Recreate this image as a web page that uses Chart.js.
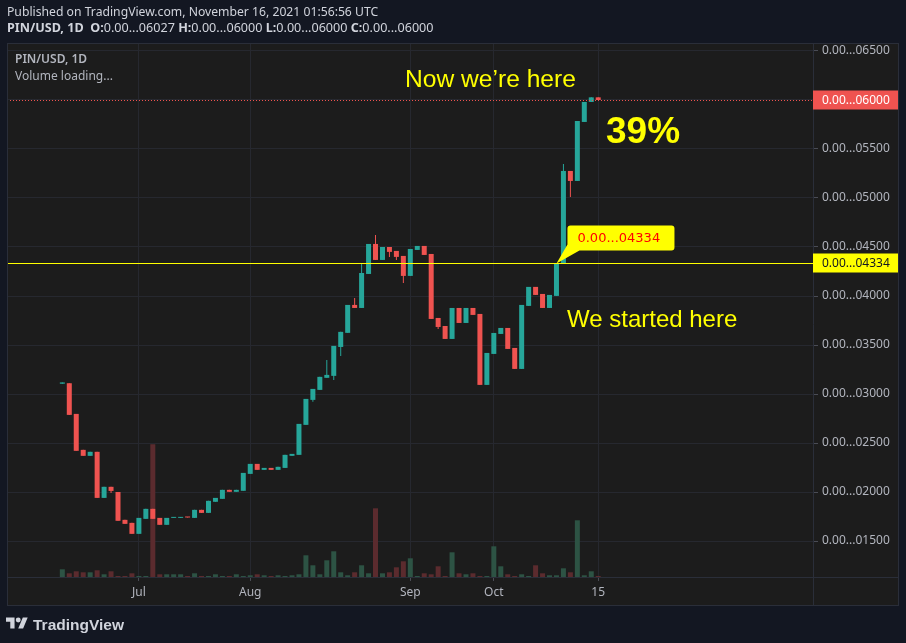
<!DOCTYPE html>
<html><head><meta charset="utf-8">
<script src="https://cdn.jsdelivr.net/npm/chart.js@4.4.0/dist/chart.umd.min.js"></script>
<style>
html,body{margin:0;padding:0;background:#131722;width:906px;height:643px;overflow:hidden;}
#c{position:absolute;left:0;top:0;}
.t{position:absolute;white-space:nowrap;}
.hd{font-family:'Noto Sans',sans-serif;font-size:12.6px;line-height:12.6px;color:#d1d4dc;}
.pn{font-family:'Noto Sans',sans-serif;font-size:12px;line-height:12px;color:#b2b5be;}
.ann{font-family:'Liberation Sans',Arial,sans-serif;color:#ffff00;}
</style></head><body>
<canvas id="c" width="906" height="643"></canvas>
<div class="t hd" style="left:7px;top:6px;font-size:12.2px;">Published on TradingView.com, November 16, 2021 01:56:56 UTC</div>
<div class="t hd" style="left:7px;top:22px;"><b>PIN/USD, 1D</b>&nbsp; <b>O:</b>0.00...06027 <b>H:</b>0.00...06000 <b>L:</b>0.00...06000 <b>C:</b>0.00...06000</div>
<div class="t pn" style="left:15px;top:53px;font-weight:600;">PIN/USD, 1D</div>
<div class="t pn" style="left:15px;top:70px;">Volume loading...</div>
<div class="t ann" style="left:405px;top:67px;font-size:24.6px;line-height:24.6px;">Now we’re here</div>
<div class="t ann" style="left:606px;top:112px;font-size:37px;line-height:37px;font-weight:bold;">39%</div>
<div class="t ann" style="left:567px;top:307px;font-size:24px;line-height:24px;">We started here</div>
<svg style="position:absolute;left:6px;top:615px" width="22" height="17.4" viewBox="0 0 36 28"><g fill="#d1d4dc"><path d="M14 22H7V11H0V4h14v18zM28 22h-8l7.5-18h8L28 22z"/><circle cx="20" cy="8" r="4"/></g></svg>
<div class="t" style="left:33px;top:617px;font-family:'Liberation Sans',Arial,sans-serif;font-weight:bold;font-size:15.5px;line-height:15.5px;color:#d1d4dc;">TradingView</div>
<script>
// ---- data (price units shown as 0.00...NNNNN) ----
const opens = [3105,3110,2797,2430,2369,2410,1940,2053,2000,1716,
  1685,1573,1726,1828,1736,1665,1736,1736,1746,1736,
  1818,1787,1900,1930,2022,2002,2012,2185,2287,2226,
  2246,2226,2246,2369,2379,2685,2940,3042,3165,3185,
  3480,3624,3909,3878,4225,4531,4368,4500,4460,4409,
  4205,4470,4511,4429,3776,3694,3562,3878,3725,3878,
  3817,3093,3409,3613,3674,3470,3256,3899,4093,4021,
  3878,4001,4334,5276,5174,5776,5980,6027];
const highs = [3118,3110,2797,2430,2410,2410,2053,2053,2000,1716,
  1685,1736,1828,1828,1736,1736,1740,1746,1746,1818,
  1818,1910,1940,2022,2022,2022,2195,2287,2287,2246,
  2246,2257,2379,2389,2695,2950,3052,3175,3348,3491,
  3634,3909,3980,4337,4531,4623,4500,4500,4460,4409,
  4480,4511,4511,4429,3776,3694,3878,3878,3878,3878,
  3817,3419,3623,3674,3674,3470,3909,4093,4093,4021,
  4011,4337,5347,5276,5786,5980,6027,6027];
const lows = [3105,2787,2420,2369,2369,1940,1940,1991,1706,1675,
  1573,1573,1726,1726,1665,1665,1736,1736,1740,1736,
  1787,1787,1900,1930,2002,2002,2012,2185,2226,2226,
  2226,2226,2246,2369,2379,2685,2920,3042,3165,3144,
  3389,3624,3878,3878,4225,4368,4368,4399,4368,4133,
  4205,4470,4419,3766,3664,3562,3562,3725,3725,3807,
  3093,3093,3409,3613,3460,3256,3256,3899,4011,3878,
  3878,4001,4334,5011,5174,5776,5980,6000];
const closes = [3118,2787,2420,2369,2410,1940,2053,2011,1706,1675,
  1573,1736,1828,1726,1665,1736,1740,1746,1740,1818,
  1787,1910,1940,2022,2002,2022,2195,2287,2226,2246,
  2226,2257,2379,2389,2695,2950,3052,3175,3195,3491,
  3634,3909,3878,4235,4531,4368,4500,4450,4399,4205,
  4480,4511,4419,3766,3684,3562,3878,3725,3878,3807,
  3093,3419,3623,3674,3460,3256,3909,4093,4011,3878,
  4011,4337,5276,5174,5786,5980,6027,6000];
const volumes = [77,37,57,47,47,67,27,57,7,7,
  37,7,7,1327,27,27,27,27,7,37,
  7,7,27,7,7,27,7,17,27,17,
  7,17,7,17,27,217,117,27,167,257,
  47,17,47,117,37,687,37,47,97,157,
  187,7,37,27,107,7,247,37,27,37,
  7,7,307,107,27,7,27,7,117,37,
  17,17,87,47,567,17,57,7];
const tickPositions = [11, 27, 50, 62, 77];
const tickLabels = ['Jul', 'Aug', 'Sep', 'Oct', '15'];
const yTicks = [1500,2000,2500,3000,3500,4000,4500,5000,5500,6000,6500];
const lastPrice = 6000;
const startPrice = 4334;
const startIndex = 71;

const UP = '#26a69a', DOWN = '#ef5350';
const VUP = '#2d5344', VDOWN = '#5b2b2e';
const fmt = v => '0.00...' + String(Math.round(v)).padStart(5, '0');
const isUp = opens.map((o, i) => closes[i] >= o);

const bodyData = opens.map((o, i) => ({x: i, y: [o, closes[i]]}));
const wickData = opens.map((o, i) => ({x: i, y: [lows[i], highs[i]]}));
const volData = volumes.map((v, i) => ({x: i, y: v}));

const overlay = {
  id: 'overlay',
  beforeDraw(chart) {
    const c = chart.ctx;
    c.save();
    c.fillStyle = '#131722'; c.fillRect(0, 0, chart.width, chart.height);
    c.fillStyle = '#1c1c1c'; c.fillRect(7, 43, 892, 563);
    c.restore();
  },
  afterDatasetsDraw(chart) {
    const c = chart.ctx, a = chart.chartArea, y = chart.scales.y, x = chart.scales.x;
    c.save();
    c.beginPath(); c.rect(a.left, a.top, a.right - a.left, a.bottom - a.top); c.clip();
    const yr = Math.round(y.getPixelForValue(lastPrice)) + 0.5;
    c.strokeStyle = DOWN; c.lineWidth = 1; c.setLineDash([1, 2]);
    c.beginPath(); c.moveTo(a.left, yr); c.lineTo(a.right, yr); c.stroke();
    c.setLineDash([]);
    const yy = Math.round(y.getPixelForValue(startPrice)) + 0.5;
    c.strokeStyle = '#ffff00';
    c.beginPath(); c.moveTo(a.left, yy); c.lineTo(a.right, yy); c.stroke();
    // callout
    const px = x.getPixelForValue(startIndex), py = yy;
    const bx = px + 11, by = py - 38, bw = 107, bh = 25;
    c.fillStyle = '#ffff00';
    c.beginPath();
    c.moveTo(bx + 3, by); c.lineTo(bx + bw - 3, by); c.quadraticCurveTo(bx + bw, by, bx + bw, by + 3);
    c.lineTo(bx + bw, by + bh - 3); c.quadraticCurveTo(bx + bw, by + bh, bx + bw - 3, by + bh);
    c.lineTo(bx + 12, by + bh); c.lineTo(px, py); c.lineTo(bx, by + bh - 6);
    c.lineTo(bx, by + 3); c.quadraticCurveTo(bx, by, bx + 3, by);
    c.fill();
    c.fillStyle = '#ff0000'; c.font = '13px "DejaVu Sans"'; c.textBaseline = 'middle'; c.textAlign = 'left';
    c.fillText(fmt(startPrice), bx + 10, by + bh / 2 + 1);
    c.restore();
  },
  afterDraw(chart) {
    const c = chart.ctx, y = chart.scales.y;
    c.save();
    c.strokeStyle = '#2a2e39'; c.lineWidth = 1;
    c.strokeRect(7.5, 43.5, 891, 562);
    c.beginPath(); c.moveTo(813.5, 43); c.lineTo(813.5, 606); c.moveTo(7, 577.5); c.lineTo(899, 577.5); c.stroke();
    c.font = '12px "Noto Sans"'; c.textBaseline = 'middle'; c.textAlign = 'left';
    const labels = [[lastPrice, DOWN, '#ffffff'], [startPrice, '#ffff00', '#131722']];
    labels.forEach(([v, bg, fg]) => {
      const p = Math.round(y.getPixelForValue(v));
      c.fillStyle = bg; c.fillRect(813, p - 9.5, 85, 19);
      c.fillStyle = fg; c.fillText(fmt(v), 822, p + 0.5);
    });
    c.restore();
  }
};

new Chart(document.getElementById('c'), {
  type: 'bar',
  data: {
    datasets: [
      {label: 'Body', data: bodyData, backgroundColor: isUp.map(u => u ? UP : DOWN),
        barThickness: 5, minBarLength: 1, grouped: false, order: 1, inflateAmount: 0, borderWidth: 0},
      {label: 'Wick', data: wickData, backgroundColor: isUp.map(u => u ? UP : DOWN),
        barThickness: 1, grouped: false, order: 2, inflateAmount: 0, borderWidth: 0},
      {label: 'Volume', data: volData, yAxisID: 'yv', backgroundColor: isUp.map(u => u ? VUP : VDOWN),
        barThickness: 5, minBarLength: 1, grouped: false, order: 3, inflateAmount: 0, borderWidth: 0}
    ]
  },
  options: {
    responsive: false, animation: false, devicePixelRatio: 1,
    layout: {padding: {left: 7, top: 43, right: 7, bottom: 37}},
    plugins: {legend: {display: false}, tooltip: {enabled: false}},
    scales: {
      x: {
        type: 'linear', min: -7.95, max: 107.86, offset: false,
        afterBuildTicks: s => { s.ticks = tickPositions.map(v => ({value: v})); },
        afterFit: s => { s.height = 29; },
        grid: {color: '#26282f', tickColor: '#4a4c55', tickLength: 4, offset: false},
        border: {display: false},
        ticks: {color: '#b2b5be', font: {family: 'Noto Sans', size: 12}, padding: 4, maxRotation: 0, autoSkip: false,
          callback: v => { const k = tickPositions.indexOf(v); return k >= 0 ? tickLabels[k] : ''; }}
      },
      y: {
        position: 'right', min: 1132.7, max: 6581.6,
        afterBuildTicks: s => { s.ticks = yTicks.map(v => ({value: v})); },
        afterFit: s => { s.width = 86; },
        grid: {color: '#26282f', tickColor: '#4a4c55', tickLength: 5},
        border: {display: false},
        ticks: {color: '#b2b5be', font: {family: 'Noto Sans', size: 12}, padding: 4, callback: v => fmt(v)}
      },
      yv: {display: false, min: 0, max: 5340}
    }
  },
  plugins: [overlay]
});
</script>
</body></html>
